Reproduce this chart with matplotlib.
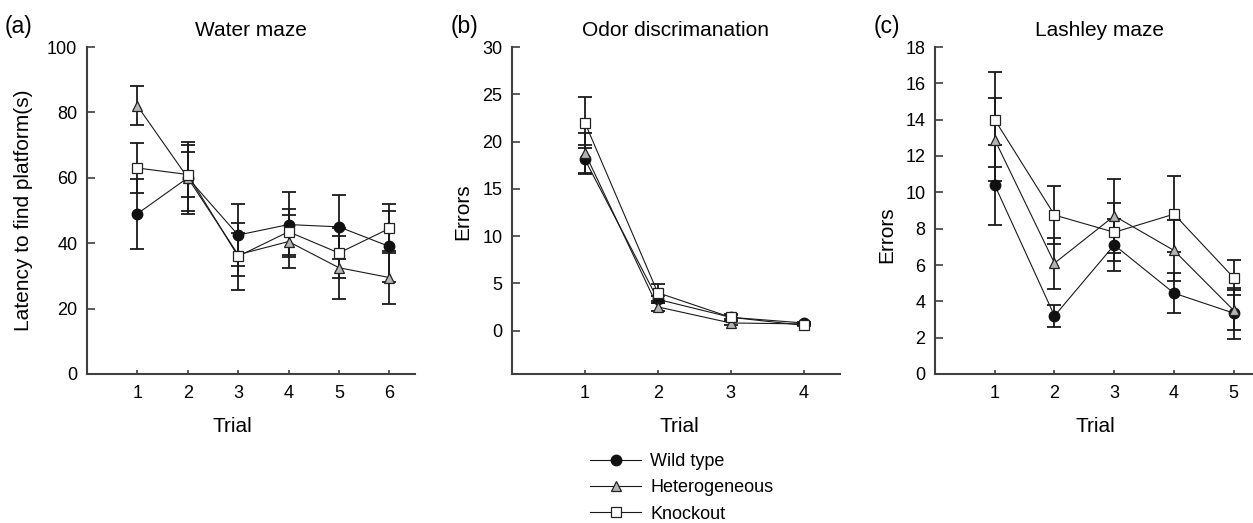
import numpy as np
import matplotlib
matplotlib.use("Agg")
import matplotlib.pyplot as plt

plt.rcParams['font.family'] = ['Liberation Sans', 'DejaVu Sans']

# (a) water maze
trials_a = [1, 2, 3, 4, 5, 6]
wt_a = [49, 60, 42.5, 45.7, 45, 39]
wt_a_err = [10.7, 11, 9.5, 10, 9.8, 10.8]
het_a = [82, 60, 36.5, 40.5, 32.5, 29.5]
het_a_err = [6, 10, 6.5, 8, 9.6, 8]
ko_a = [63, 61, 36, 43.5, 37, 44.5]
ko_a_err = [7.5, 7, 10.2, 7, 7.7, 7.5]

# (b) odor discrimination
trials_b = [1, 2, 3, 4]
wt_b = [18.1, 3.3, 1.4, 0.8]
wt_b_err = [1.5, 0.4, 0.2, 0.15]
het_b = [18.8, 2.5, 0.8, 0.7]
het_b_err = [2.1, 0.4, 0.2, 0.1]
ko_b = [22, 4.0, 1.4, 0.55]
ko_b_err = [2.7, 0.9, 0.35, 0.1]

# (c) lashley maze
trials_c = [1, 2, 3, 4, 5]
wt_c = [10.4, 3.2, 7.1, 4.45, 3.35]
wt_c_err = [2.2, 0.6, 1.45, 1.1, 1.4]
het_c = [12.9, 6.1, 8.7, 6.8, 3.5]
het_c_err = [2.3, 1.4, 2.05, 1.7, 1.1]
ko_c = [14, 8.75, 7.8, 8.8, 5.3]
ko_c_err = [2.6, 1.6, 1.6, 2.1, 0.95]

groups = ["Wild type", "Heterogeneous", "Knockout"]

W, H = 1253, 523
fig = plt.figure(figsize=(W / 100, H / 100), dpi=100)


def px_axes(left, right, top, bottom):
    return fig.add_axes([left / W, 1 - bottom / H, (right - left) / W, (bottom - top) / H])


styles = [
    dict(marker='o', mfc='#111111', mec='#111111', ms=7.5),
    dict(marker='^', mfc='#b4b4b4', mec='#222222', ms=7.5, mew=0.9),
    dict(marker='s', mfc='white', mec='#222222', ms=6.5, mew=0.9),
]


def panel(ax, x, series, ylim, yticks, xlim, title, ylabel, ylab_xy, xlab_x):
    lines = []
    for (y, e), st, name in zip(series, styles, groups):
        ax.errorbar(x, y, yerr=e, fmt='none', ecolor='#1a1a1a', elinewidth=1.3,
                    capsize=4.7, capthick=1.3, zorder=2)
        ln, = ax.plot(x, y, color='#1a1a1a', lw=0.8, label=name, zorder=3, **st)
        lines.append(ln)
    ax.set_xlim(*xlim)
    ax.set_ylim(*ylim)
    ax.set_yticks(yticks)
    ax.set_xticks(x)
    for s in ['top', 'right']:
        ax.spines[s].set_visible(False)
    for s in ['left', 'bottom']:
        ax.spines[s].set_color('#404040')
        ax.spines[s].set_linewidth(1.5)
    ax.tick_params(axis='y', direction='in', length=6, width=1.2, color='#404040',
                   pad=7, labelsize=13)
    ax.tick_params(axis='x', direction='in', length=3, width=1.2, color='#404040',
                   pad=8, labelsize=13)
    ax.set_title(title, fontsize=15, pad=8)
    ax.set_ylabel(ylabel, fontsize=15)
    ax.yaxis.set_label_coords(*ylab_xy)
    ax.set_xlabel("Trial", fontsize=15)
    ax.xaxis.set_label_coords(xlab_x, -0.132)
    return lines


ax_a = px_axes(87, 414.5, 47, 374)
panel(ax_a, trials_a, [(wt_a, wt_a_err), (het_a, het_a_err), (ko_a, ko_a_err)],
      (0, 100), range(0, 101, 20), (0, 6.5), "Water maze",
      "Latency to find platform(s)", (-0.165, 0.5), 0.445)

ax_b = px_axes(512, 840, 47, 374)
lines = panel(ax_b, trials_b, [(wt_b, wt_b_err), (het_b, het_b_err), (ko_b, ko_b_err)],
              (-4.6, 30), range(0, 31, 5), (0, 4.5), "Odor discrimanation",
              "Errors", (-0.122, 0.495), 0.51)

ax_c = px_axes(935, 1263.6, 47, 374)
panel(ax_c, trials_c, [(wt_c, wt_c_err), (het_c, het_c_err), (ko_c, ko_c_err)],
      (0, 18), range(0, 19, 2), (0, 5.5), "Lashley maze",
      "Errors", (-0.117, 0.425), 0.488)

fig.text(5 / W, 1 - 27 / H, "(a)", fontsize=16.5, ha='left', va='center')
fig.text(451 / W, 1 - 27 / H, "(b)", fontsize=16.5, ha='left', va='center')
fig.text(874 / W, 1 - 27 / H, "(c)", fontsize=16.5, ha='left', va='center')

fig.legend(handles=lines, labels=groups, loc='upper left',
           bbox_to_anchor=(590 / W, 1 - 453 / H), frameon=False, fontsize=13,
           handlelength=2.83, handletextpad=0.5, labelspacing=0.52, borderaxespad=0,
           borderpad=0)

fig.savefig("out.png", dpi=100)
